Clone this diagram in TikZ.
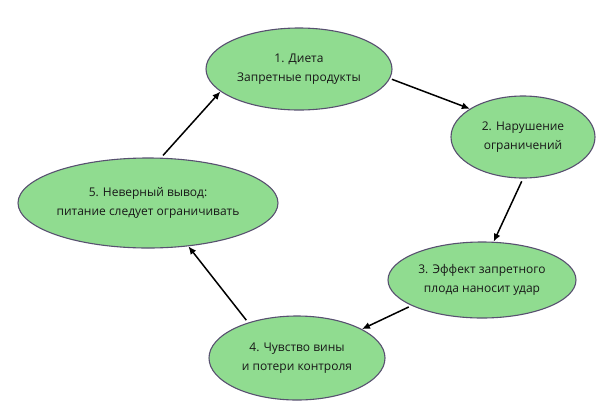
\documentclass[tikz,border=0pt]{standalone}
\usepackage{fontspec}
\setmainfont{Open Sans}
\usetikzlibrary{shapes.geometric,arrows.meta}
\definecolor{fillg}{RGB}{144,220,144}
\definecolor{edgec}{RGB}{88,80,112}
\definecolor{txt}{RGB}{24,24,24}
\begin{document}
\begin{tikzpicture}[x=1pt,y=-1pt,
  stage/.style={ellipse,draw=edgec,line width=1.1pt,fill=fillg,inner sep=0pt,
    align=center,text=txt,font=\fontsize{12}{19.5}\selectfont},
  arr/.style={line width=1.5pt,-{Latex[length=8pt,width=7pt]}}]
\useasboundingbox (0,0) rectangle (616,408);
\node[stage,minimum width=186pt,minimum height=82pt] (n1) at (299,69) {1. Диета\\Запретные продукты};
\node[stage,minimum width=144pt,minimum height=82pt] (n2) at (523,137) {2. Нарушение\\ограничений};
\node[stage,minimum width=188pt,minimum height=76pt] (n3) at (482,280) {3. Эффект запретного\\плода наносит удар};
\node[stage,minimum width=176pt,minimum height=84pt] (n4) at (297,358) {4. Чувство вины\\и потери контроля};
\node[stage,minimum width=260pt,minimum height=90pt] (n5) at (148,203) {5. Неверный вывод:\\питание следует ограничивать};
\draw[arr,shorten <=2pt] (n1.-6) -- (n2.152);
\draw[arr,shorten <=3pt] (n2.south) -- (n3.73);
\draw[arr,shorten <=3pt] (n3.200) -- (n4.24);
\draw[arr,shorten <=3pt] (n4.144) -- (n5.-47);
\draw[arr,shorten <=3pt] (n5.74) -- (n1.196);
\end{tikzpicture}
\end{document}
